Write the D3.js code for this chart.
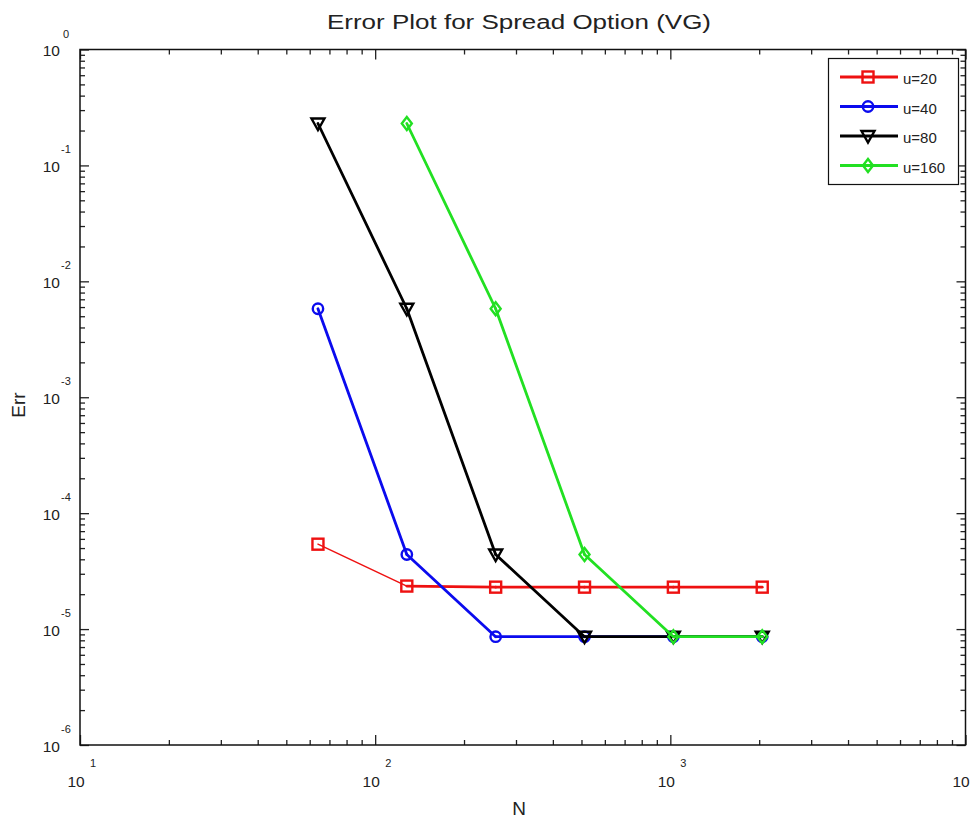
<!DOCTYPE html>
<html><head><meta charset="utf-8">
<script src="https://cdn.jsdelivr.net/npm/d3@7"></script>
<style>body{margin:0;background:#fff}svg{display:block}text{font-family:"Liberation Sans",Arial,sans-serif;fill:#222}</style>
</head><body>
<script>
const N = [64, 128, 256, 512, 1024, 2048];
const errU20  = [5.4e-5, 2.35e-5, 2.3e-5, 2.3e-5, 2.3e-5, 2.3e-5];
const errU40  = [5.8e-3, 4.4e-5, 8.6e-6, 8.6e-6, 8.6e-6, 8.6e-6];
const errU80  = [0.23, 5.8e-3, 4.4e-5, 8.6e-6, 8.6e-6, 8.6e-6];
const nU160   = [128, 256, 512, 1024, 2048];
const errU160 = [0.23, 5.8e-3, 4.4e-5, 8.6e-6, 8.6e-6];
const seriesNames = ["u=20", "u=40", "u=80", "u=160"];
const xTickExp = [1, 2, 3, 4];
const yTickExp = [0, -1, -2, -3, -4, -5, -6];

const series = [
  {name: seriesNames[0], x: N, y: errU20, color: "#ee1111", sym: "square", w: 2.8, w0: 1.5},
  {name: seriesNames[1], x: N, y: errU40, color: "#0b0bee", sym: "circle", w: 2.8, w0: 2.8},
  {name: seriesNames[2], x: N, y: errU80, color: "#000000", sym: "tri", w: 2.8, w0: 2.8},
  {name: seriesNames[3], x: nU160, y: errU160, color: "#22e022", sym: "diamond", w: 2.8, w0: 2.8}
];

const W = 971, H = 823;
const L = 80, R = 965.5, T = 49.5, B = 745;
const svg = d3.select("body").append("svg").attr("width", W).attr("height", H);
const x = d3.scaleLog().domain([10, 1e4]).range([L, R]);
const y = d3.scaleLog().domain([1e-6, 1]).range([B, T]);

function minorVals(lo, hi) {
  const out = [];
  for (let e = lo; e < hi; e++) for (let k = 2; k <= 9; k++) out.push(k * Math.pow(10, e));
  return out;
}
const majX = xTickExp.map(e => Math.pow(10, e));
const majY = yTickExp.map(e => Math.pow(10, e));
const minX = minorVals(1, 4), minY = minorVals(-6, 0);
const axisStyle = g => g.call(s => s.select(".domain").remove()).call(s => s.selectAll("text").remove())
  .call(s => s.selectAll("line").attr("stroke", "#222").attr("stroke-width", 1.3));

svg.append("g").attr("transform", `translate(0,${B})`).call(d3.axisTop(x).tickValues(majX).tickSize(10)).call(axisStyle);
svg.append("g").attr("transform", `translate(0,${B})`).call(d3.axisTop(x).tickValues(minX).tickSize(5)).call(axisStyle);
svg.append("g").attr("transform", `translate(0,${T})`).call(d3.axisBottom(x).tickValues(majX).tickSize(10)).call(axisStyle);
svg.append("g").attr("transform", `translate(0,${T})`).call(d3.axisBottom(x).tickValues(minX).tickSize(5)).call(axisStyle);
svg.append("g").attr("transform", `translate(${L},0)`).call(d3.axisRight(y).tickValues(majY).tickSize(9)).call(axisStyle);
svg.append("g").attr("transform", `translate(${L},0)`).call(d3.axisRight(y).tickValues(minY).tickSize(5)).call(axisStyle);
svg.append("g").attr("transform", `translate(${R},0)`).call(d3.axisLeft(y).tickValues(majY).tickSize(9)).call(axisStyle);
svg.append("g").attr("transform", `translate(${R},0)`).call(d3.axisLeft(y).tickValues(minY).tickSize(5)).call(axisStyle);

svg.append("rect").attr("x", L).attr("y", T).attr("width", R - L).attr("height", B - T)
  .attr("fill", "none").attr("stroke", "#111").attr("stroke-width", 1.5);

// tick labels (the 10^4 exponent falls outside the picture in the reference)
xTickExp.forEach(e => {
  const px = x(Math.pow(10, e));
  svg.append("text").attr("x", Math.min(px - 4, 961)).attr("y", 787).attr("text-anchor", "middle").attr("font-size", 15.5).text("10");
  if (px + 16 < W) svg.append("text").attr("x", px + 10).attr("y", 767).attr("text-anchor", "start").attr("font-size", 11).text(e);
});
yTickExp.forEach(e => {
  const py = y(Math.pow(10, e));
  svg.append("text").attr("x", 60).attr("y", py + 6.5).attr("text-anchor", "end").attr("font-size", 15.5).text("10");
  svg.append("text").attr("x", e < 0 ? 61 : 63).attr("y", py - 12).attr("text-anchor", "start").attr("font-size", 11)
    .text(e < 0 ? "-" + Math.abs(e) : e);
});

svg.append("text").attr("x", 519).attr("y", 29).attr("text-anchor", "middle").attr("font-size", 20)
  .attr("textLength", 384).attr("lengthAdjust", "spacingAndGlyphs").text("Error Plot for Spread Option (VG)");
svg.append("text").attr("x", 519).attr("y", 815).attr("text-anchor", "middle").attr("font-size", 19).text("N");
svg.append("text").attr("transform", "translate(25,405) rotate(-90)").attr("text-anchor", "middle").attr("font-size", 19).text("Err");

function marker(g, sym, color) {
  if (sym === "square") g.append("rect").attr("x", -5.5).attr("y", -5.5).attr("width", 11).attr("height", 11);
  else if (sym === "circle") g.append("circle").attr("r", 5.2);
  else if (sym === "tri") g.append("path").attr("d", "M-6.5,-5L6.5,-5L0,6.5Z");
  else g.append("path").attr("d", "M0,-6.5L5,0L0,6.5L-5,0Z");
  g.selectAll("*").attr("fill", "none").attr("stroke", color).attr("stroke-width", 2.4);
}

series.forEach(s => {
  const pts = s.x.map((v, i) => [v, s.y[i]]);
  d3.pairs(pts).forEach((pr, i) => {
    svg.append("line").attr("x1", x(pr[0][0])).attr("y1", y(pr[0][1])).attr("x2", x(pr[1][0])).attr("y2", y(pr[1][1]))
      .attr("stroke", s.color).attr("stroke-width", i === 0 ? s.w0 : s.w).attr("stroke-linecap", "round");
  });
  pts.forEach(p => {
    const g = svg.append("g").attr("transform", `translate(${x(p[0])},${y(p[1])})`);
    marker(g, s.sym, s.color);
  });
});

const lg = svg.append("g");
lg.append("rect").attr("x", 828.5).attr("y", 58.5).attr("width", 130).attr("height", 126)
  .attr("fill", "#fff").attr("stroke", "#111").attr("stroke-width", 1.2);
series.forEach((s, i) => {
  const ly = 77 + i * 29.5;
  lg.append("line").attr("x1", 840).attr("x2", 898).attr("y1", ly).attr("y2", ly).attr("stroke", s.color).attr("stroke-width", 2.8);
  const g = lg.append("g").attr("transform", `translate(868,${ly})`);
  marker(g, s.sym, s.color);
  lg.append("text").attr("x", 903).attr("y", ly + 7).attr("font-size", 15).text(s.name);
});
</script>
</body></html>
